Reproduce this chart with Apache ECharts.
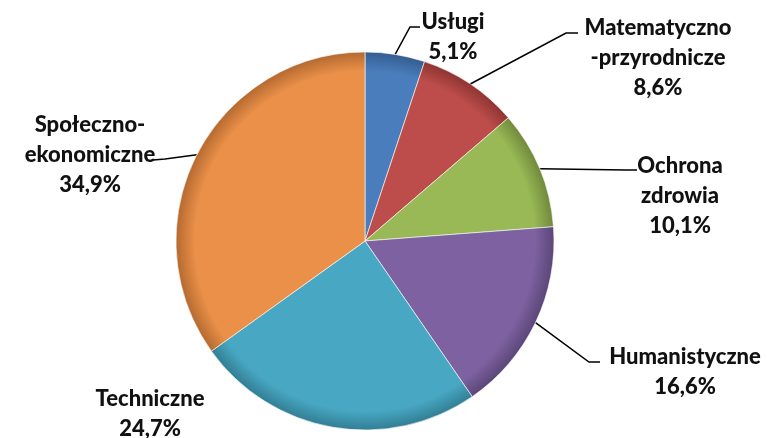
<!DOCTYPE html>
<html>
<head>
<meta charset="utf-8">
<script src="https://cdn.jsdelivr.net/npm/echarts@6/dist/echarts.min.js"></script>
<style>
  html, body { margin: 0; padding: 0; background: #fff; }
  #chart { width: 767px; height: 438px; }
</style>
</head>
<body>
<div id="chart"></div>
<script>
// data
const categories = ["Usługi", "Matematyczno\n-przyrodnicze", "Ochrona\nzdrowia", "Humanistyczne", "Techniczne", "Społeczno-\nekonomiczne"];
const shares = [5.1, 8.6, 10.1, 16.6, 24.7, 34.9];
const colors = ["#4a7dbb", "#bd4d4a", "#98b955", "#7d61a0", "#48a8c4", "#ea9049"];
const rims = ["#345d90", "#8e3533", "#718a3c", "#5b4678", "#327e94", "#b56a30"];

// layout: centre of each label block, and where its leader line ends (null = no line)
const labelSpots = [[453, 37], [658, 58], [680, 196], [685, 372], [150, 414], [90, 155]];
const leaderEnds = [[[410, 27], [420, 27]], [[566, 33], [578, 33]], [[626, 170], [637, 170]],
  [[589, 362], [600, 362]], null, [[165, 159], [153, 160]]];

const cx = 365, cy = 241, R = 189;

const total = shares.reduce((a, b) => a + b, 0);
// point on the rim at the middle of each slice (clockwise from 12 o'clock)
function midRim(i) {
  let before = 0;
  for (let k = 0; k < i; k++) before += shares[k];
  const a = (before + shares[i] / 2) / total * Math.PI * 2;
  return [cx + R * Math.sin(a), cy - R * Math.cos(a)];
}

const chart = echarts.init(document.getElementById("chart"));

const data = categories.map((name, i) => ({
  name: name,
  value: shares[i],
  itemStyle: {
    color: {
      type: "radial", x: cx, y: cy, r: R, global: true,
      colorStops: [
        { offset: 0, color: colors[i] },
        { offset: 0.9, color: colors[i] },
        { offset: 1, color: rims[i] }
      ]
    }
  },
  labelLine: { show: leaderEnds[i] !== null }
}));

chart.setOption({
  animation: false,
  series: [{
    type: "pie",
    center: [cx, cy],
    radius: R,
    startAngle: 90,
    clockwise: true,
    data: data,
    itemStyle: { borderColor: "rgba(255,255,255,0.6)", borderWidth: 1 },
    label: {
      show: true,
      position: "outside",
      fontFamily: "Lato",
      fontWeight: 900,
      fontSize: 22,
      lineHeight: 30,
      color: "#111",
      align: "center",
      formatter: p => p.name + "\n" + p.value.toFixed(1).replace(".", ",") + "%"
    },
    labelLine: {
      show: true,
      length: 15,
      length2: 12,
      lineStyle: { color: "#000", width: 1.5 }
    },
    labelLayout: function (params) {
      const i = params.dataIndex;
      const s = labelSpots[i];
      const out = { x: s[0], y: s[1], align: "center", verticalAlign: "middle" };
      if (leaderEnds[i]) out.labelLinePoints = [midRim(i)].concat(leaderEnds[i]);
      return out;
    }
  }]
});
</script>
</body>
</html>
